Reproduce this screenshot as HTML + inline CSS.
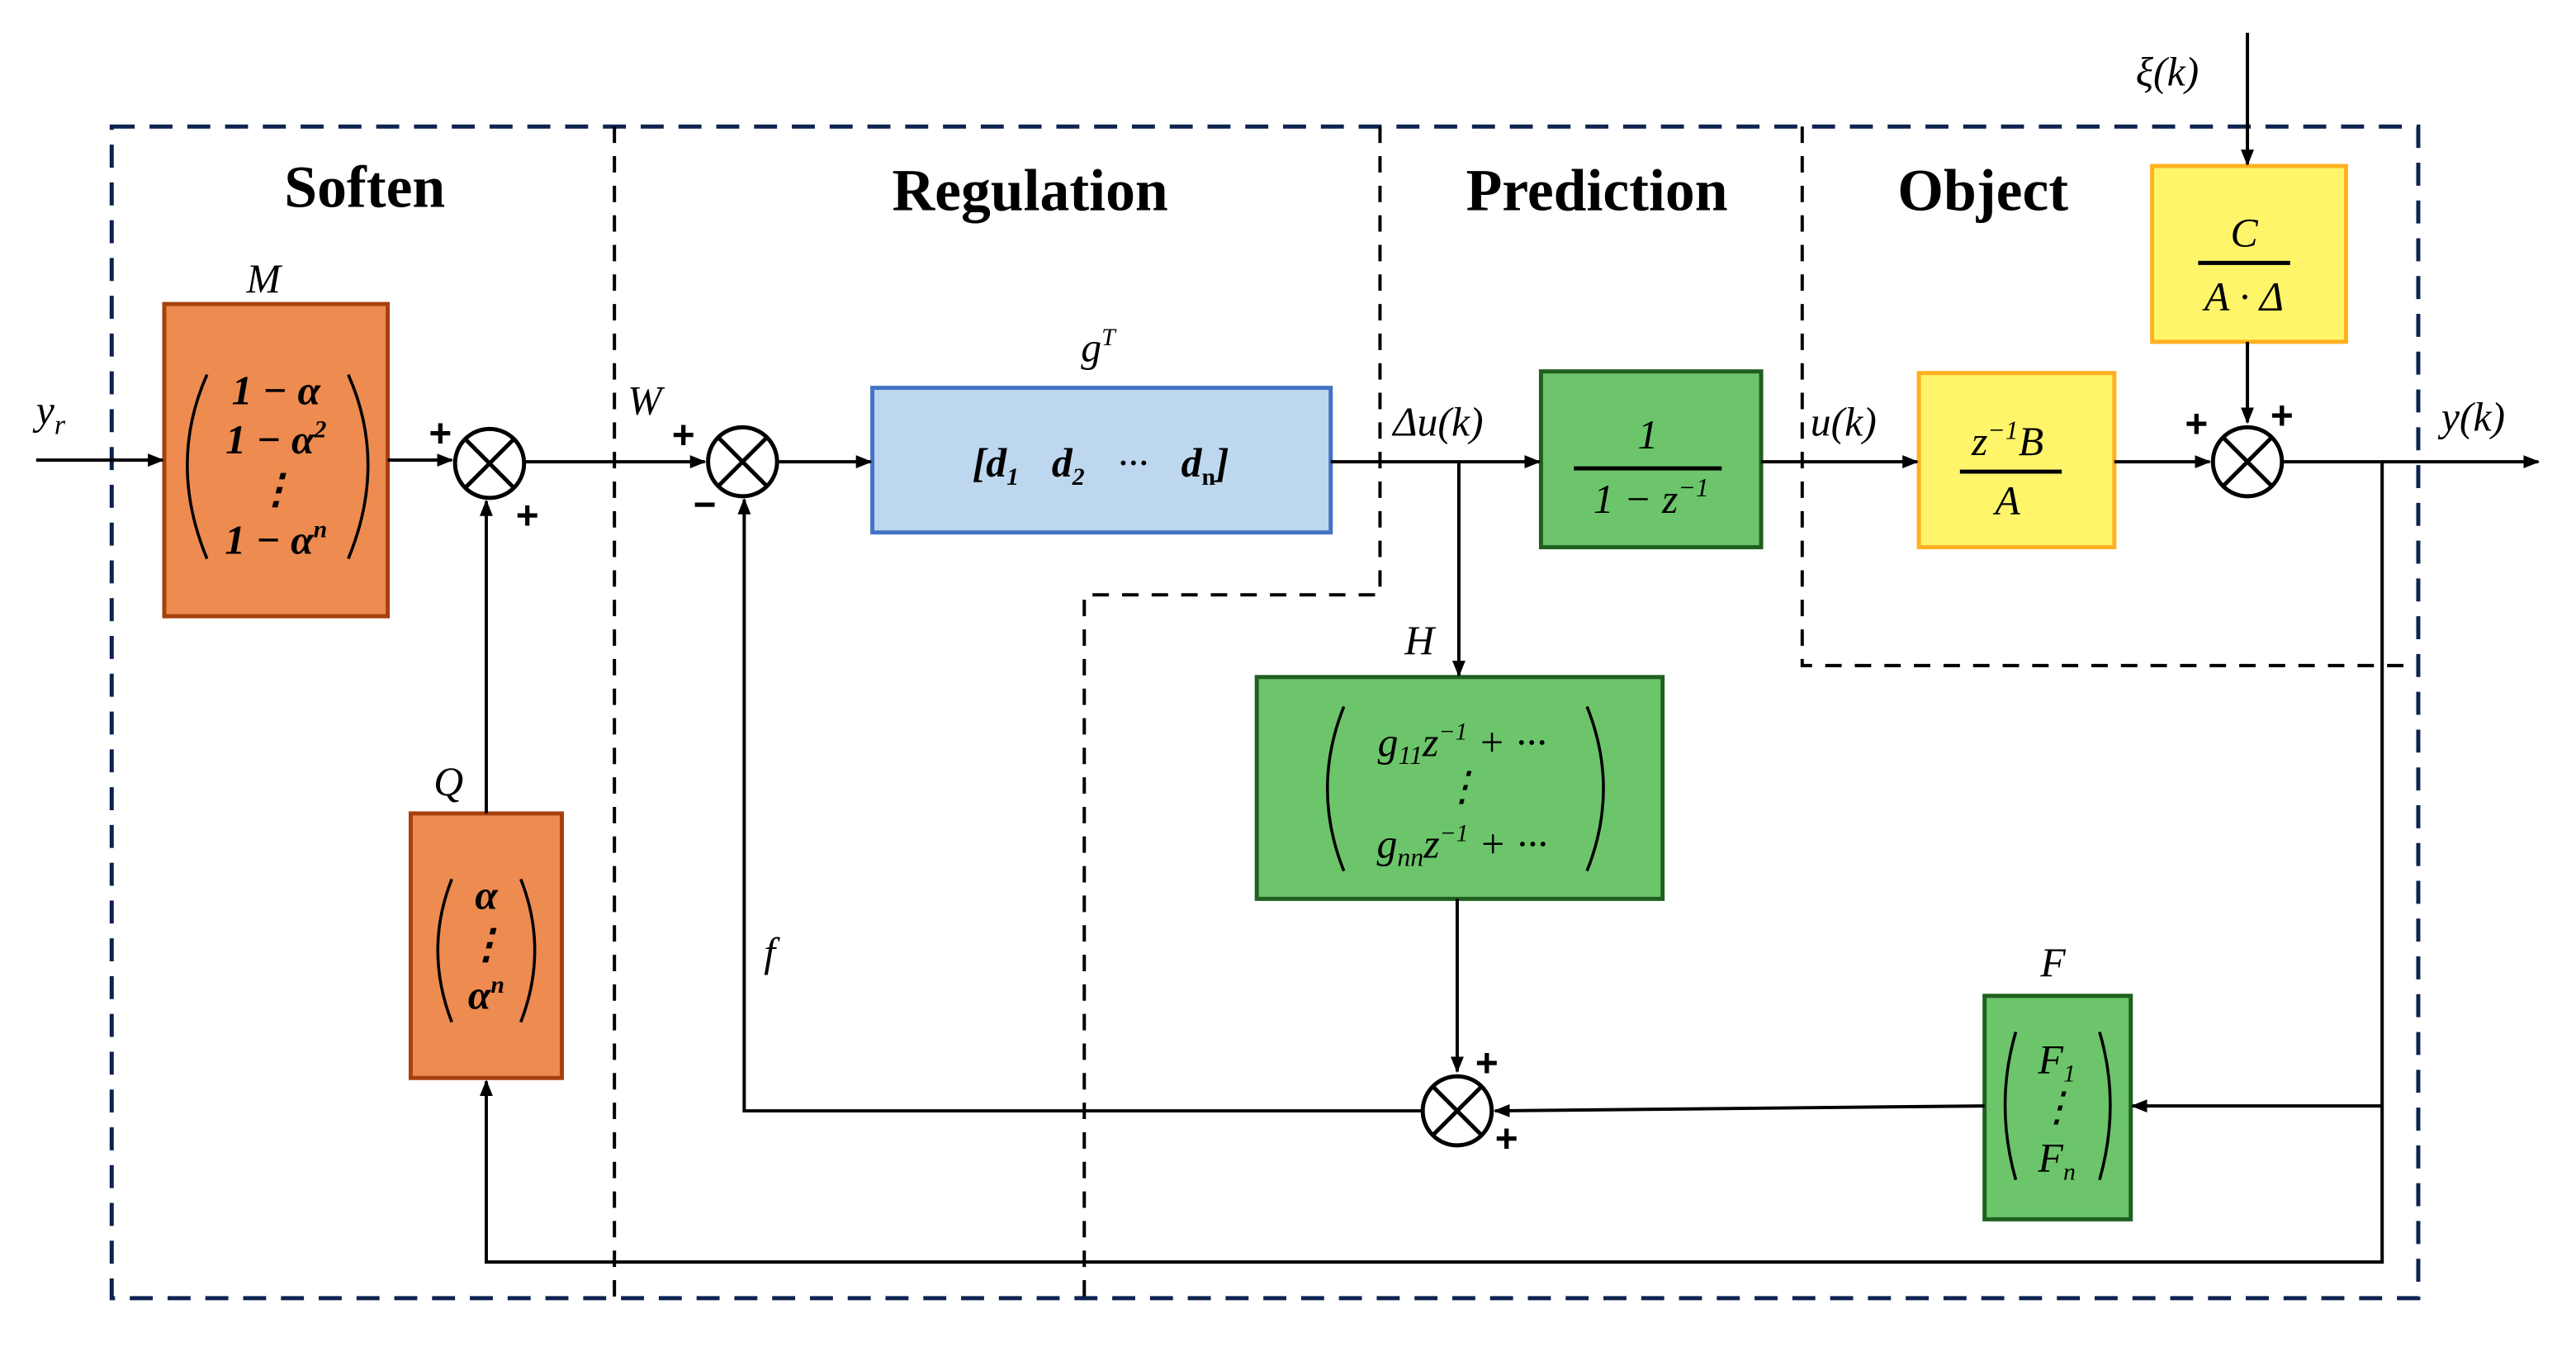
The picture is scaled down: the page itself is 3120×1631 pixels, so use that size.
<!DOCTYPE html>
<html><head><meta charset="utf-8"><style>
html,body{margin:0;padding:0;background:#fff;}
svg{display:block;}
text{font-family:"Liberation Serif",serif;}
.t{font-weight:bold;font-size:36px;text-anchor:middle;}
.i{font-style:italic;font-size:25px;}
.m{font-style:italic;font-weight:bold;font-size:25px;text-anchor:middle;}
.p{font-weight:bold;font-size:24px;font-family:"Liberation Sans",sans-serif;text-anchor:middle;}
</style></head><body>
<svg width="3120" height="1631" viewBox="0 0 1568 819.7" preserveAspectRatio="none" xmlns="http://www.w3.org/2000/svg">
<defs><marker id="a" markerWidth="10" markerHeight="10" refX="9" refY="5" orient="auto" markerUnits="userSpaceOnUse"><path d="M0,1 L10,5 L0,9 Z" fill="#000"/></marker></defs>
<rect x="68" y="77" width="1404" height="713" fill="none" stroke="#0d2350" stroke-width="2.5" stroke-dasharray="14,9"/>
<g fill="none" stroke="#000" stroke-width="2" stroke-dasharray="10,8">
<path d="M374,77 V790"/>
<path d="M840,77 V362 H660 V790"/>
<path d="M1097,77 V405 H1465"/>
</g>
<text class="t" x="222" y="126">Soften</text>
<text class="t" x="627" y="128">Regulation</text>
<text class="t" x="972" y="128">Prediction</text>
<text class="t" x="1207" y="128">Object</text>
<rect x="100" y="185" width="136" height="190" fill="#ED8B50" stroke="#A8400E" stroke-width="2.5"/>
<rect x="250" y="495" width="92" height="161" fill="#ED8B50" stroke="#A8400E" stroke-width="2.5"/>
<rect x="531" y="236" width="279" height="88" fill="#BDD7EE" stroke="#4472C4" stroke-width="2.5"/>
<rect x="938" y="226" width="134" height="107" fill="#6CC56A" stroke="#1F5F1F" stroke-width="2.5"/>
<rect x="765" y="412" width="247" height="135" fill="#6CC56A" stroke="#1F5F1F" stroke-width="2.5"/>
<rect x="1208" y="606" width="89" height="136" fill="#6CC56A" stroke="#1F5F1F" stroke-width="2.5"/>
<rect x="1168" y="227" width="119" height="106" fill="#FFF56A" stroke="#FFB020" stroke-width="2.5"/>
<rect x="1310" y="101" width="118" height="107" fill="#FFF56A" stroke="#FFB020" stroke-width="2.5"/>
<g fill="none" stroke="#000" stroke-width="2">
<path d="M22,280 H99" marker-end="url(#a)"/>
<path d="M236,280 H275" marker-end="url(#a)"/>
<path d="M320,281 H429" marker-end="url(#a)"/>
<path d="M474,281 H530" marker-end="url(#a)"/>
<path d="M810,281 H937" marker-end="url(#a)"/>
<path d="M888,281 V411" marker-end="url(#a)"/>
<path d="M1072,281 H1167" marker-end="url(#a)"/>
<path d="M1287,281 H1345" marker-end="url(#a)"/>
<path d="M1368,20 V100" marker-end="url(#a)"/>
<path d="M1368,208 V257" marker-end="url(#a)"/>
<path d="M1390,281 H1545" marker-end="url(#a)"/>
<path d="M1450,281 V768 H296 V658" marker-end="url(#a)"/>
<path d="M1450,673 H1298" marker-end="url(#a)"/>
<path d="M1208,673 L910,676" marker-end="url(#a)"/>
<path d="M887,547 V652" marker-end="url(#a)"/>
<path d="M865,676 H453 V304" marker-end="url(#a)"/>
<path d="M296,495 V305" marker-end="url(#a)"/>
</g>
<g fill="#fff" stroke="#000" stroke-width="2.5">
<circle cx="298" cy="282" r="21"/><circle cx="452" cy="281" r="21"/>
<circle cx="1368" cy="281" r="21"/><circle cx="887" cy="676" r="21"/>
</g>
<g stroke="#000" stroke-width="2.5">
<path d="M283,267 L313,297 M313,267 L283,297"/>
<path d="M437,266 L467,296 M467,266 L437,296"/>
<path d="M1353,266 L1383,296 M1383,266 L1353,296"/>
<path d="M872,661 L902,691 M902,661 L872,691"/>
</g>
<text class="p" x="268" y="272">+</text><text class="p" x="321" y="322">+</text>
<text class="p" x="416" y="273">+</text><text class="p" x="429" y="315">−</text>
<text class="p" x="1337" y="266">+</text><text class="p" x="1389" y="261">+</text>
<text class="p" x="905" y="655">+</text><text class="p" x="917" y="701">+</text>
<text class="i" x="22" y="258">y<tspan font-size="17" dy="6">r</tspan></text>
<text class="i" x="150" y="178">M</text>
<text class="i" x="382" y="252">W</text>
<text class="i" x="658" y="220">g<tspan font-size="15" dy="-10">T</tspan></text>
<text class="i" x="848" y="265">Δu(k)</text>
<text class="i" x="1102" y="265">u(k)</text>
<text class="i" x="1486" y="262">y(k)</text>
<text class="i" x="1300" y="52">ξ(k)</text>
<text class="i" x="855" y="398">H</text>
<text class="i" x="264" y="484">Q</text>
<text class="i" x="465" y="588">f</text>
<text class="i" x="1242" y="594">F</text>
<g fill="none" stroke="#000" stroke-width="1.8">
<path d="M126,228 Q102,282 126,340"/><path d="M212,228 Q236,282 212,340"/>
<path d="M275,535 Q258,578 275,622"/><path d="M317,535 Q334,578 317,622"/>
<path d="M818,430 Q798,480 818,530"/><path d="M966,430 Q986,480 966,530"/>
<path d="M1227,628 Q1214,672 1227,718"/><path d="M1278,628 Q1291,672 1278,718"/>
</g>
<text class="m" x="168" y="246">1 − α</text>
<text class="m" x="168" y="276">1 − α<tspan font-size="15" dy="-10">2</tspan></text>
<text class="m" x="168" y="306">⋮</text>
<text class="m" x="168" y="337">1 − α<tspan font-size="15" dy="-10">n</tspan></text>
<text class="m" x="296" y="553">α</text>
<text class="m" x="296" y="583">⋮</text>
<text class="m" x="296" y="614">α<tspan font-size="15" dy="-10">n</tspan></text>
<text class="m" x="670" y="290">[<tspan font-style="italic">d</tspan><tspan font-size="15" dy="5">1</tspan><tspan dy="-5" dx="20">d</tspan><tspan font-size="15" dy="5">2</tspan><tspan dy="-5" dx="20" font-weight="normal">···</tspan><tspan dx="20">d</tspan><tspan font-size="15" dy="5" font-style="normal">n</tspan><tspan dy="-5">]</tspan></text>
<text class="i" x="890" y="460" text-anchor="middle">g<tspan font-size="16" dy="5">11</tspan><tspan dy="-5">z</tspan><tspan font-size="15" dy="-10">−1</tspan><tspan dy="10"> + ···</tspan></text>
<text class="i" x="890" y="487" text-anchor="middle">⋮</text>
<text class="i" x="890" y="522" text-anchor="middle">g<tspan font-size="16" dy="5">nn</tspan><tspan dy="-5">z</tspan><tspan font-size="15" dy="-10">−1</tspan><tspan dy="10"> + ···</tspan></text>
<text class="i" x="1252" y="653" text-anchor="middle">F<tspan font-size="15" dy="5">1</tspan></text>
<text class="i" x="1252" y="682" text-anchor="middle">⋮</text>
<text class="i" x="1252" y="713" text-anchor="middle">F<tspan font-size="15" dy="5">n</tspan></text>
<g stroke="#000" stroke-width="2.5">
<path d="M958,285 H1048"/><path d="M1193,287 H1255"/><path d="M1338,160 H1394"/>
</g>
<text class="i" x="1003" y="273" text-anchor="middle" font-style="normal" font-size="27">1</text>
<text class="i" x="1005" y="312" text-anchor="middle" font-size="27">1 − z<tspan font-size="16" dy="-10">−1</tspan></text>
<text class="i" x="1222" y="277" text-anchor="middle" font-size="27">z<tspan font-size="16" dy="-10">−1</tspan><tspan dy="10">B</tspan></text>
<text class="i" x="1222" y="313" text-anchor="middle" font-size="27">A</text>
<text class="i" x="1366" y="150" text-anchor="middle" font-size="27">C</text>
<text class="i" x="1366" y="189" text-anchor="middle" font-size="27">A · Δ</text>
</svg>
</body></html>
